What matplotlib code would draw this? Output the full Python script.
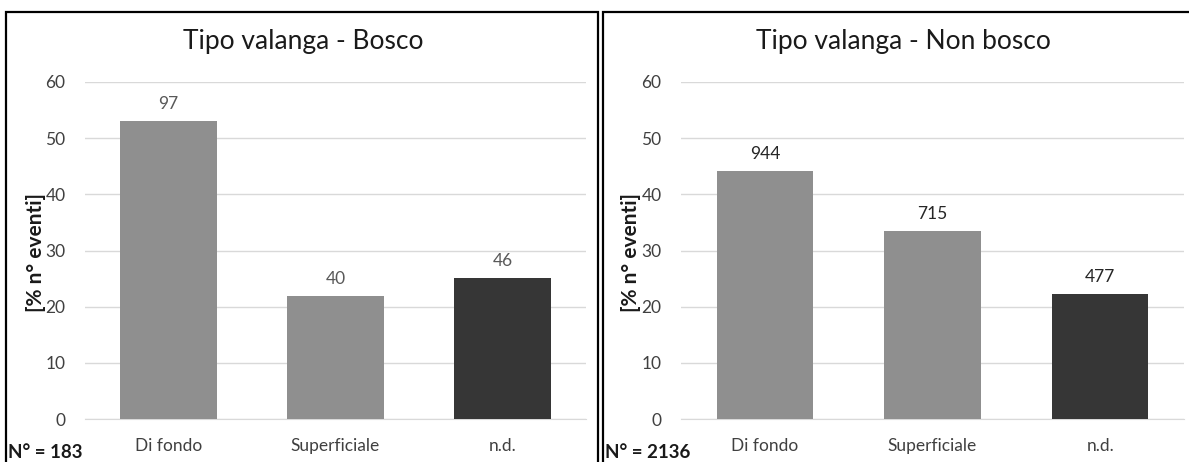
import matplotlib.pyplot as plt
from matplotlib.patches import Rectangle

categories = ['Di fondo', 'Superficiale', 'n.d.']

# Bosco
bosco_counts = [97, 40, 46]
bosco_pct = [53.0, 21.9, 25.1]
bosco_total = 183

# Non bosco
nonbosco_counts = [944, 715, 477]
nonbosco_pct = [44.2, 33.5, 22.3]
nonbosco_total = 2136

bar_colors = ['#8f8f8f', '#8f8f8f', '#363636']

plt.rcParams['font.family'] = ['Lato', 'DejaVu Sans']

W, H = 1189, 462
fig = plt.figure(figsize=(W / 100, H / 100), dpi=100)


def fx(px):
    return px / W


def fy(py):
    return 1 - py / H


def panel(left_px, right_px, pct, counts, title, total, title_x, ylab_x, n_x, label_color):
    ax = fig.add_axes([fx(left_px), fy(419), fx(right_px - left_px), fy(82) - fy(419)])
    x = range(len(categories))
    ax.bar(x, pct, width=0.575, color=bar_colors, zorder=3)
    for xi, p, c in zip(x, pct, counts):
        ax.text(xi, p + 1.6, str(c), ha='center', va='bottom', fontsize=12.5, color=label_color)
    ax.set_xlim(-0.5, 2.5)
    ax.set_ylim(0, 60)
    ax.set_yticks(range(0, 61, 10))
    ax.set_xticks(list(x))
    ax.set_xticklabels(categories)
    ax.tick_params(axis='both', length=0, labelsize=12.5, colors='#404040')
    ax.tick_params(axis='x', pad=14)
    ax.tick_params(axis='y', pad=14)
    ax.grid(axis='y', color='#d9d9d9', linewidth=1, zorder=0)
    for s in ['top', 'right', 'left']:
        ax.spines[s].set_visible(False)
    ax.spines['bottom'].set_color('#d9d9d9')
    ax.set_facecolor('none')
    fig.text(fx(title_x), fy(42), title, ha='center', va='center', fontsize=19, color='#1a1a1a')
    fig.text(fx(ylab_x), fy(252), '[% n° eventi]', rotation=90, ha='center', va='center',
             fontsize=15, fontweight='bold', color='#1a1a1a')
    fig.text(fx(n_x), fy(452), f'N° = {total}', ha='left', va='center',
             fontsize=13.5, fontweight='bold', color='#1a1a1a')
    return ax


panel(85, 586, bosco_pct, bosco_counts, 'Tipo valanga - Bosco', bosco_total, 303, 36, 8, '#595959')
panel(681, 1184, nonbosco_pct, nonbosco_counts, 'Tipo valanga - Non bosco', nonbosco_total, 903, 631, 605, '#262626')

# panel frames
fig.patches.append(Rectangle((fx(6), fy(470)), fx(598 - 6), fy(12) - fy(470),
                             transform=fig.transFigure, fill=False, edgecolor='black', linewidth=1.6))
fig.patches.append(Rectangle((fx(603), fy(470)), fx(1195 - 603), fy(12) - fy(470),
                             transform=fig.transFigure, fill=False, edgecolor='black', linewidth=1.6))

fig.savefig('out.png', dpi=100, facecolor='white')
